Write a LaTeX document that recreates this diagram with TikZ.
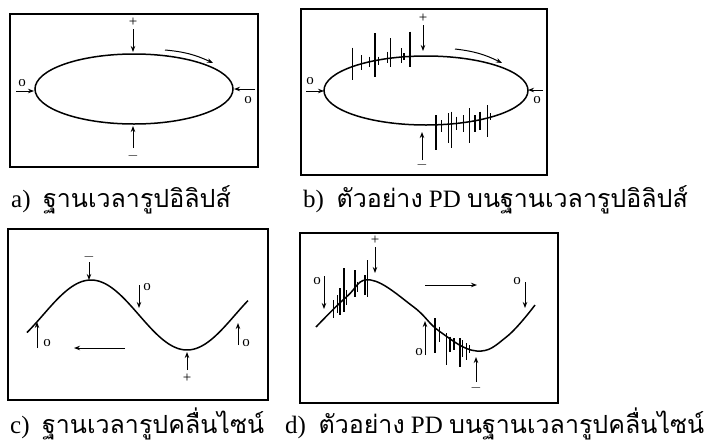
\documentclass[tikz,border=0pt]{standalone}
\usepackage{fontspec}
\setmainfont{Liberation Serif}
\newfontfamily\thaifont[Script=Thai]{Loma}
\usetikzlibrary{arrows.meta}
\tikzstyle{frame}   = [line width=1.1pt]
\tikzstyle{base}    = [line width=1.5pt]
\tikzstyle{pd}      = [line width=1.1pt]
\tikzstyle{sym}     = [inner sep=0pt, font=\fontsize{15}{15}\selectfont]
\tikzstyle{arrow}   = [line width=1pt, -{Stealth[length=6pt,width=4.5pt]}]
\tikzstyle{caption} = [anchor=west, inner sep=0pt, font=\fontsize{25}{28}\selectfont]

\begin{document}
\begin{tikzpicture}[x=1pt, y=-1pt]
  \useasboundingbox (0,0) rectangle (712,445);

  % a) ellipse base
  \draw[frame] (10,14) rectangle (258,167);
  \draw[base] (134,89) ellipse [x radius=99, y radius=35];
  \node[sym] (aPlus)  at (133,22)  {+};
  \node[sym] (aMinus) at (133,156) {$-$};
  \node[sym] (aLeft)  at (22,83)   {o};
  \node[sym] (aRight) at (248,100) {o};
  \draw[arrow] (133,29) -- (133,52);
  \draw[arrow] (133,148) -- (133,126);
  \draw[arrow] (16,91) -- (34,91);
  \draw[arrow] (255,89) -- (234,89);
  \draw[arrow] (165,50) to[bend left=10] (213,63);
  \node[caption] (capA) at (11,200) {a)\enspace{\thaifont ฐานเวลารูปอิลิปส์}};

  % b) PD on ellipse base
  \draw[frame] (301,9) rectangle (547,175);
  \draw[base] (426,90.5) ellipse [x radius=102, y radius=34.5];
  \foreach \x/\a/\b in {352.7/47.7/80, 361.7/55/70, 369.3/56.7/66.7, 375/33.3/76.7,
      378.3/56.7/65, 387.3/51.7/63.3, 390.7/38.3/66.7, 401.7/48.3/63.3, 404/53.3/60,
      410/31.7/66.7, 436/115/150, 441.7/120/131.7, 448.3/113.3/143.3, 451.7/111.7/148.3,
      456.7/116.7/130, 463.3/115/131.7, 469.3/108.3/143.3, 475/115/131.7, 480/111.7/130,
      487.3/105/136.7, 490.7/113.3/120}
    \draw[pd] (\x,\a) -- (\x,\b);
  \node[sym] (bPlus)  at (423,18)  {+};
  \node[sym] (bMinus) at (422,165) {$-$};
  \node[sym] (bLeft)  at (310,81)  {o};
  \node[sym] (bRight) at (537,100) {o};
  \draw[arrow] (423,25) -- (423,51);
  \draw[arrow] (422,160) -- (422,132);
  \draw[arrow] (306,91) -- (324,91);
  \draw[arrow] (543,90) -- (528,90);
  \draw[arrow] (455,49) to[bend left=10] (502,63);
  \node[caption] (capB) at (303,200) {b)\enspace{\thaifont ตัวอย่าง} PD {\thaifont บนฐานเวลารูปอิลิปส์}};

  % c) sine base
  \draw[frame] (8,229) rectangle (268,400);
  \draw[base] plot[domain=27:248, samples=90] (\x, {315 - 35*sin((\x-43)*1.875)});
  \node[sym] (cMinus) at (89,257)  {$-$};
  \node[sym] (cMid)   at (147,287) {o};
  \node[sym] (cLeft)  at (47,343)  {o};
  \node[sym] (cRight) at (246,343) {o};
  \node[sym] (cPlus)  at (187,378) {+};
  \draw[arrow] (89,262) -- (89,280);
  \draw[arrow] (139,285) -- (139,308);
  \draw[arrow] (37,348) -- (37,322);
  \draw[arrow] (238,345) -- (238,323);
  \draw[arrow] (187,370) -- (187,352);
  \draw[arrow] (125,348) -- (74,348);
  \node[caption] (capC) at (10,424) {c)\enspace{\thaifont ฐานเวลารูปคลื่นไซน์}};

  % d) PD on sine base
  \draw[frame] (300,233) rectangle (558,403);
  \draw[base] plot[smooth, tension=0.7] coordinates {(316,327) (346.7,296.7) (370.7,280)
      (413.3,306.7) (440,331.7) (476.7,351) (506.7,336.7) (535,305)};
  \foreach \x/\a/\b in {333.3/300/318.3, 337.3/295/313.3, 340/288.3/315, 344/268.3/311.7,
      346.7/290/305, 355/270/296.7, 357.3/281.7/291.7, 365/275/295, 367.3/260/296.7,
      435/318.3/353.3, 439.3/326.7/341.7, 446.7/333.3/365, 450/336.7/351.7, 454/338.3/350,
      460/338.3/366.7, 462.7/340/356.7, 466.7/343.3/360, 469.3/345/353.3}
    \draw[pd] (\x,\a) -- (\x,\b);
  \node[sym] (dPlus)  at (375,240) {+};
  \node[sym] (dLeft)  at (317,281) {o};
  \node[sym] (dMid)   at (419,352) {o};
  \node[sym] (dMinus) at (476,388) {$-$};
  \node[sym] (dRight) at (517,281) {o};
  \draw[arrow] (375,247) -- (375,273);
  \draw[arrow] (324,276) -- (324,309);
  \draw[arrow] (425,355) -- (425,321);
  \draw[arrow] (476,382) -- (476,357);
  \draw[arrow] (525,282) -- (525,308);
  \draw[arrow] (425,285) -- (477,285);
  \node[caption] (capD) at (285,424) {d)\enspace{\thaifont ตัวอย่าง} PD {\thaifont บนฐานเวลารูปคลื่นไซน์}};
\end{tikzpicture}
\end{document}
